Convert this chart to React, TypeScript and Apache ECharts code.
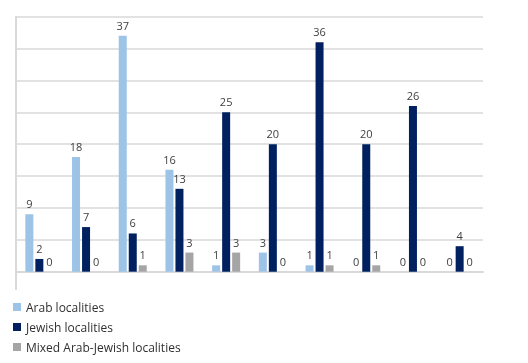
import React, { useEffect, useRef } from "react";
import * as echarts from "echarts";

const categories = ["1", "2", "3", "4", "5", "6", "7", "8", "9", "10"];
const arab = [9, 18, 37, 16, 1, 3, 1, 0, 0, 0];
const jewish = [2, 7, 6, 13, 25, 20, 36, 20, 26, 4];
const mixed = [0, 0, 1, 3, 3, 0, 1, 1, 0, 0];
const seriesNames = ["Arab localities", "Jewish localities", "Mixed Arab-Jewish localities"];
const colors = ["#9DC3E6", "#002060", "#A5A5A5"];

export default function App() {
  const ref = useRef<HTMLDivElement>(null);
  useEffect(() => {
    if (!ref.current) return;
    const chart = echarts.init(ref.current, undefined, { renderer: "svg" });
    const font = "'Open Sans', 'Noto Sans', sans-serif";
    const label = {
      show: true,
      position: "top",
      distance: 5,
      color: "#404040",
      fontSize: 11,
      fontFamily: font,
    };
    const datas = [arab, jewish, mixed];
    chart.setOption({
      animation: false,
      textStyle: { fontFamily: font },
      grid: { left: 16, right: 45, top: 16.7, bottom: 91.3, containLabel: false },
      xAxis: {
        type: "category",
        data: categories,
        axisLine: { show: true, lineStyle: { color: "#d9d9d9", width: 2 } },
        axisTick: { show: false },
        axisLabel: { show: false },
      },
      yAxis: {
        type: "value",
        min: 0,
        max: 40,
        interval: 5,
        axisLine: { show: true, lineStyle: { color: "#d9d9d9", width: 2 } },
        axisTick: { show: false },
        axisLabel: { show: false },
        splitLine: { show: true, lineStyle: { color: "#d9d9d9", width: 1.5 } },
      },
      legend: {
        orient: "vertical",
        left: 8,
        top: 296,
        itemWidth: 8,
        itemHeight: 8,
        itemGap: 8,
        icon: "rect",
        textStyle: { color: "#303030", fontSize: 12, fontFamily: font },
        data: seriesNames,
      },
      graphic: [
        {
          type: "line",
          shape: { x1: 16, y1: 271, x2: 16, y2: 290 },
          style: { stroke: "#d9d9d9", lineWidth: 2 },
        },
      ],
      series: seriesNames.map((name, i) => ({
        name,
        type: "bar",
        data: datas[i],
        barWidth: 8,
        barGap: "25%",
        itemStyle: { color: colors[i] },
        label,
      })),
    });
    return () => chart.dispose();
  }, []);
  return (
    <div
      ref={ref}
      style={{ position: "fixed", left: 0, top: 0, width: 528, height: 363 }}
    />
  );
}
